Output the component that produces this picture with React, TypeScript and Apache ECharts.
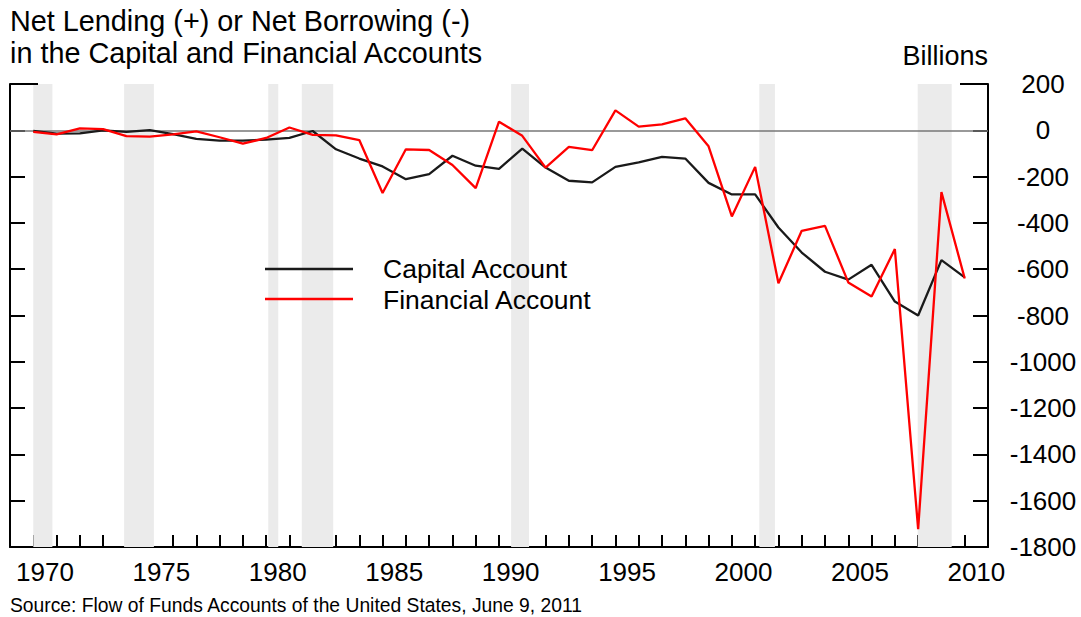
import React, { useEffect, useRef } from "react";
import * as echarts from "echarts";

const FONT = "'Liberation Sans', Arial, Helvetica, sans-serif";

const titleLines = ["Net Lending (+) or Net Borrowing (-)", "in the Capital and Financial Accounts"];
const unitLabel = "Billions";
const sourceText = "Source: Flow of Funds Accounts of the United States, June 9, 2011";
const seriesNames = ["Capital Account", "Financial Account"];

const years = [
  1970, 1971, 1972, 1973, 1974, 1975, 1976, 1977, 1978, 1979,
  1980, 1981, 1982, 1983, 1984, 1985, 1986, 1987, 1988, 1989,
  1990, 1991, 1992, 1993, 1994, 1995, 1996, 1997, 1998, 1999,
  2000, 2001, 2002, 2003, 2004, 2005, 2006, 2007, 2008, 2009, 2010,
];

const capitalAccount = [
  -3, -14, -13, 0, -7, 1, -17, -37, -45, -45,
  -40, -33, -3, -82, -122, -156, -211, -189, -110, -153,
  -167, -79, -161, -218, -225, -158, -139, -115, -122, -227,
  -277, -277, -420, -528, -611, -645, -581, -740, -800, -561, -635,
];

const financialAccount = [
  -7, -18, 8, 5, -25, -27, -18, -5, -30, -58,
  -33, 12, -20, -22, -42, -271, -82, -85, -150, -250,
  37, -24, -161, -72, -86, 86, 16, 26, 52, -69,
  -372, -158, -661, -434, -413, -657, -718, -513, -1723, -267, -640,
];

const xTickLabels = ["1970", "1975", "1980", "1985", "1990", "1995", "2000", "2005", "2010"];

const recessionStart = [1970.0, 1973.9, 1980.09, 1981.53, 1990.52, 2001.18, 2007.98];
const recessionEnd = [1970.82, 1975.18, 1980.52, 1982.88, 1991.29, 2001.85, 2009.44];

const X_MIN = 1969;
const X_MAX = 2011;
const Y_MIN = -1800;
const Y_MAX = 200;

export default function App() {
  const ref = useRef<HTMLDivElement>(null);

  useEffect(() => {
    if (!ref.current) return;
    const chart = echarts.init(ref.current, undefined, { renderer: "svg" });

    const axisColor = "#000";
    const gridLeft = 10;
    const gridRight = 93;
    const gridTop = 84;
    const gridBottom = 70;
    const W = 1081;
    const plotRight = W - gridRight;

    const yAxisBase = {
      type: "value" as const,
      min: Y_MIN,
      max: Y_MAX,
      interval: 200,
      splitLine: { show: false },
      axisLine: { show: true, onZero: false, lineStyle: { color: axisColor, width: 2 } },
      axisTick: { show: true, inside: true, length: 15, lineStyle: { color: axisColor, width: 2 } },
    };

    const legendFont = 26.5;

    const option: any = {
      animation: false,
      backgroundColor: "#fff",
      title: {
        text: titleLines.join("\n"),
        left: 10,
        top: 5,
        padding: 0,
        textStyle: { fontFamily: FONT, fontSize: 28.8, fontWeight: "normal", color: "#000", lineHeight: 32 },
      },
      grid: { left: gridLeft, right: gridRight, top: gridTop, bottom: gridBottom, containLabel: false },
      xAxis: {
        type: "value",
        min: X_MIN,
        max: X_MAX,
        interval: 1,
        splitLine: { show: false },
        axisLine: { show: true, onZero: false, lineStyle: { color: axisColor, width: 2 } },
        axisTick: {
          show: true,
          inside: true,
          length: 12,
          customValues: years,
          lineStyle: { color: axisColor, width: 2 },
        },
        axisLabel: {
          show: true,
          customValues: xTickLabels.map((l) => Number(l) + 0.5),
          formatter: (v: number) => String(Math.floor(v)),
          margin: 12,
          fontFamily: FONT,
          fontSize: 26,
          color: "#000",
        },
      },
      yAxis: [
        {
          ...yAxisBase,
          position: "right",
          axisLabel: {
            show: true,
            align: "center",
            margin: 55,
            fontFamily: FONT,
            fontSize: 26,
            color: "#000",
            padding: [3, 0, 0, 0],
            formatter: (v: number) => String(v),
          },
        },
        {
          ...yAxisBase,
          position: "left",
          axisLabel: { show: false },
        },
      ],
      series: [
        {
          name: seriesNames[0],
          type: "line",
          yAxisIndex: 0,
          data: years.map((y, i) => [y, capitalAccount[i]]),
          showSymbol: false,
          symbol: "none",
          lineStyle: { color: "#1a1a1a", width: 2.3 },
          itemStyle: { color: "#1a1a1a" },
          z: 3,
          markArea: {
            silent: true,
            z: 1,
            itemStyle: { color: "#ebebeb" },
            label: { show: false },
            data: recessionStart.map((s, i) => [{ xAxis: s }, { xAxis: recessionEnd[i] }]),
          },
          markLine: {
            silent: true,
            z: 2,
            symbol: ["none", "none"],
            label: { show: false },
            lineStyle: { color: "#777", width: 1.6, type: "solid" },
            data: [{ yAxis: 0 }],
          },
        },
        {
          name: seriesNames[1],
          type: "line",
          yAxisIndex: 0,
          data: years.map((y, i) => [y, financialAccount[i]]),
          showSymbol: false,
          symbol: "none",
          lineStyle: { color: "#ff0000", width: 2.3 },
          itemStyle: { color: "#ff0000" },
          z: 4,
        },
      ],
      graphic: {
        elements: [
          {
            type: "text",
            z: 100,
            x: plotRight,
            y: 56,
            style: { text: unitLabel, fontFamily: FONT, fontSize: 27, fill: "#000", align: "right", verticalAlign: "middle" },
          },
          {
            type: "text",
            z: 100,
            x: 10,
            y: 605,
            style: { text: sourceText, fontFamily: FONT, fontSize: 19.3, fill: "#000", align: "left", verticalAlign: "middle" },
          },
          {
            type: "line",
            z: 100,
            shape: { x1: gridLeft, y1: gridTop, x2: gridLeft + 28, y2: gridTop },
            style: { stroke: axisColor, lineWidth: 2 },
          },
          {
            type: "line",
            z: 100,
            shape: { x1: plotRight - 28, y1: gridTop, x2: plotRight, y2: gridTop },
            style: { stroke: axisColor, lineWidth: 2 },
          },
          {
            type: "line",
            z: 100,
            shape: { x1: 265, y1: 269, x2: 353, y2: 269 },
            style: { stroke: "#1a1a1a", lineWidth: 2.5 },
          },
          {
            type: "line",
            z: 100,
            shape: { x1: 265, y1: 299, x2: 353, y2: 299 },
            style: { stroke: "#ff0000", lineWidth: 2.5 },
          },
          {
            type: "text",
            z: 100,
            x: 383,
            y: 268.5,
            style: {
              text: seriesNames[0],
              fontFamily: FONT,
              fontSize: legendFont,
              lineHeight: 26,
              fill: "#000",
              align: "left",
              verticalAlign: "middle",
            },
          },
          {
            type: "text",
            z: 100,
            x: 383,
            y: 299.5,
            style: {
              text: seriesNames[1],
              fontFamily: FONT,
              fontSize: legendFont,
              lineHeight: 26,
              fill: "#000",
              align: "left",
              verticalAlign: "middle",
            },
          },
        ],
      },
    };

    chart.setOption(option);
    return () => {
      chart.dispose();
    };
  }, []);

  return (
    <div
      ref={ref}
      style={{ position: "fixed", left: 0, top: 0, width: 1081, height: 617, background: "#fff" }}
    />
  );
}
